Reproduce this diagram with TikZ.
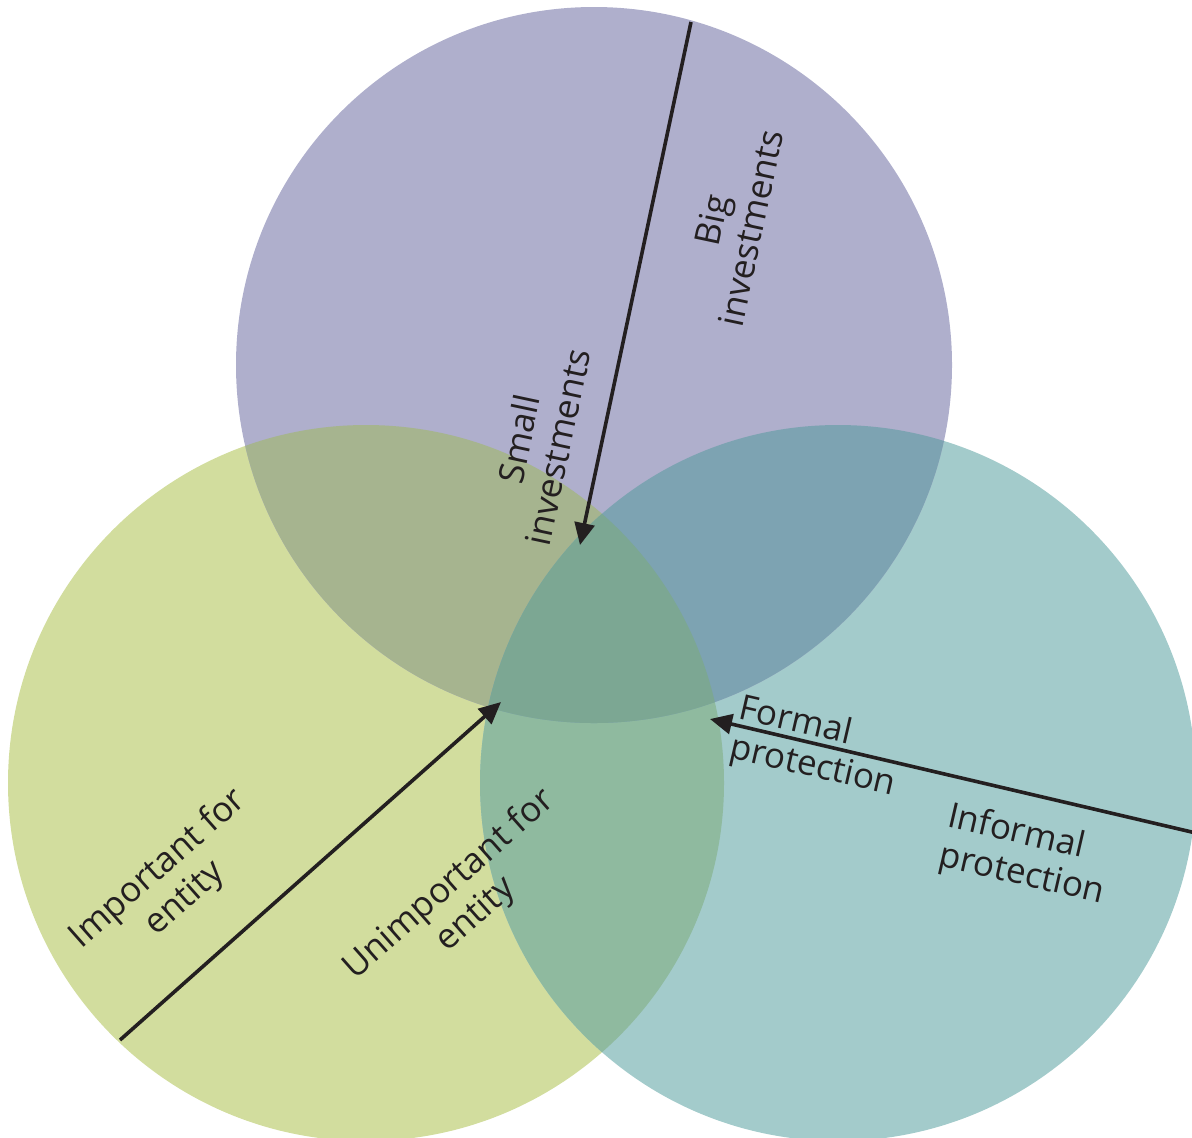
\documentclass[tikz,border=0pt]{standalone}
\usepackage{fontspec}
\setmainfont{Open Sans}
\usetikzlibrary{arrows.meta}
\definecolor{cP}{HTML}{AFAFCC}
\definecolor{cG}{HTML}{D2DD9E}
\definecolor{cT}{HTML}{A3CBCB}
\definecolor{cPG}{HTML}{A6B48F}
\definecolor{cGT}{HTML}{8FBA9F}
\definecolor{cPT}{HTML}{7DA3B2}
\definecolor{cPGT}{HTML}{7CA793}
\definecolor{ink}{HTML}{231F20}
\tikzset{
  arr/.style={draw=ink, line width=1.8pt, -{Triangle[length=11pt,width=10pt]}},
  lbl/.style={text=ink, font=\fontsize{17.5}{20}\selectfont, inner sep=0pt},
}
\begin{document}
\begin{tikzpicture}[x=0.5pt,y=-0.5pt]
\useasboundingbox (0,0) rectangle (1192,1137);
\clip (0,0) rectangle (1192,1137);
\coordinate (P) at (594,365);
\coordinate (G) at (366,783);
\coordinate (T) at (838,783);
\def\R{358}
\fill[cG] (G) circle (\R);
\fill[cT] (T) circle (\R);
\fill[cP] (P) circle (\R);
\begin{scope}
  \clip (G) circle (\R);
  \fill[cPG] (P) circle (\R);
  \fill[cGT] (T) circle (\R);
\end{scope}
\begin{scope}
  \clip (P) circle (\R);
  \fill[cPT] (T) circle (\R);
\end{scope}
\begin{scope}
  \clip (P) circle (\R);
  \clip (G) circle (\R);
  \fill[cPGT] (T) circle (\R);
\end{scope}

% arrows
\coordinate (a1s) at (691,22);
\coordinate (a1e) at (580,545);
\coordinate (a2s) at (120,1040);
\coordinate (a2e) at (501,702);
\coordinate (a3s) at (1196,833);
\coordinate (a3e) at (710,719);
\draw[arr] (a1s) -- (a1e);
\draw[arr] (a2s) -- (a2e);
\draw[arr] (a3s) -- (a3e);

% labels
\node[lbl, align=center, rotate=78] (big) at (731,224) {Big\\investments};
\node[lbl, align=center, rotate=78] (small) at (538,443) {Small\\investments};
\node[lbl, align=left, rotate=-13] (formal) at (817,748) {Formal\\protection};
\node[lbl, align=left, rotate=-13] (informal) at (1026,856) {Informal\\protection};
\node[lbl, align=center, rotate=41.5] (imp) at (172,884) {Important for\\entity};
\node[lbl, align=center, rotate=41.5] (unimp) at (463,900) {Unimportant for\\entity};
\end{tikzpicture}
\end{document}
